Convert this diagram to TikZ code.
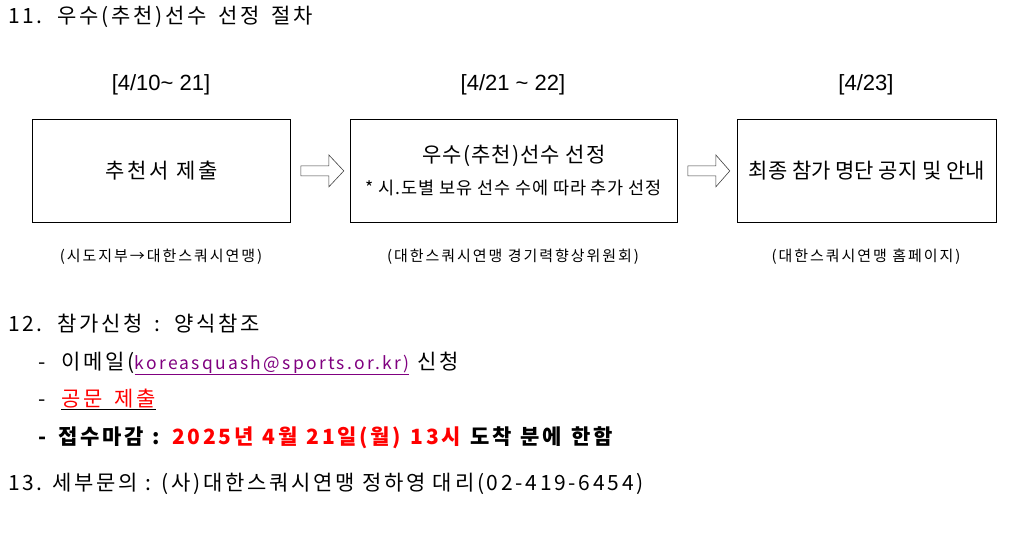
\documentclass[tikz,border=0pt]{standalone}
\usepackage{fontspec}
\setmainfont{Noto Sans CJK KR}
\newfontfamily\gw[LetterSpace=13]{Noto Sans CJK KR}
\newfontfamily\gww[LetterSpace=13.01,WordSpace=1.6]{Noto Sans CJK KR}
\newfontfamily\gwb[LetterSpace=13.02,WordSpace=1.22]{Noto Sans CJK KR}
\newfontfamily\gm[LetterSpace=5]{Noto Sans CJK KR}
\newfontfamily\arialf{Liberation Sans}
\usetikzlibrary{calc}
\definecolor{mailpurple}{RGB}{128,0,128}
\definecolor{red0}{RGB}{255,0,0}
\tikzset{
  stepbox/.style={draw=black, line width=0.8pt, minimum width=258pt, minimum height=103pt, anchor=north west, inner sep=0pt},
  datelbl/.style={font=\arialf\fontsize{22}{24}\selectfont, anchor=center, inner sep=0pt},
  sublbl/.style={font=\gw\fontsize{15}{17}\selectfont, anchor=center, inner sep=0pt},
  boxtxt/.style={font=\gm\fontsize{21}{24}\selectfont, anchor=center, inner sep=0pt},
  arrowline/.style={draw=black!75, line width=0.6pt, line join=miter},
  line/.style={font=\gw\fontsize{21}{24}\selectfont, anchor=base west, inner sep=0pt},
}
\begin{document}
\begin{tikzpicture}[x=1pt,y=-1pt]
\useasboundingbox[fill=white] (0,0) rectangle (1028,533);
\node[line, font=\gww\fontsize{21}{24}\selectfont] (t11) at (8,23) {11. 우수(추천)선수 선정 절차};

\node[datelbl] (d1) at (161,85) {[4/10\~{} 21]};
\node[datelbl] (d2) at (513,85) {[4/21 \~{} 22]};
\node[datelbl] (d3) at (866,85) {[4/23]};

\node[stepbox] (b1) at (32,119) {};
\node[stepbox, minimum width=327pt] (b2) at (350,119) {};
\node[stepbox, minimum width=259pt] (b3) at (737,119) {};
\node[boxtxt, font=\gw\fontsize{21}{24}\selectfont] (b1t) at (b1.center) {추천서 제출};
\node[boxtxt] (b2t) at ($(b2.center)+(0,-15.5)$) {우수(추천)선수 선정};
\node[boxtxt, font=\gm\fontsize{17.5}{20}\selectfont] (b2s) at ($(b2.center)+(0,17)$) {* 시.도별 보유 선수 수에 따라 추가 선정};
\node[boxtxt, font=\fontsize{21}{24}\selectfont] (b3t) at (b3.center) {최종 참가 명단 공지 및 안내};

\draw[arrowline] ($(b1.east)+(10,-5)$) -- ++(28,0) -- ++(0,-11) -- ++(15,16) -- ++(-15,16) -- ++(0,-11) -- ++(-28,0) -- cycle;
\draw[arrowline] ($(b2.east)+(10,-5)$) -- ++(28,0) -- ++(0,-11) -- ++(14,16) -- ++(-14,16) -- ++(0,-11) -- ++(-28,0) -- cycle;

\node[sublbl] (s1) at (161,257) {(시도지부→대한스쿼시연맹)};
\node[sublbl] (s2) at (513,257) {(대한스쿼시연맹 경기력향상위원회)};
\node[sublbl] (s3) at (866,257) {(대한스쿼시연맹 홈페이지)};

\node[line, font=\gww\fontsize{21}{24}\selectfont] (t12) at (8,331) {12. 참가신청 : 양식참조};
\node[line] (l1) at (38,369) {-\hspace{16pt}이메일(\textcolor{mailpurple}{\underline{\fontsize{17.5}{22}\selectfont koreasquash@sports.or.kr)}}\hspace{8pt}신청};
\node[line, font=\gww\fontsize{21}{24}\selectfont] (l2) at (38,406) {-\hspace{16pt}\underline{\textcolor{red0}{공문 제출}}};
\node[line, font=\gwb\fontsize{21}{24}\selectfont\bfseries] (l3) at (38,444) {-\hspace{12pt}접수마감 : \textcolor{red0}{2025년 4월 21일(월) 13시} 도착 분에 한함};
\node[line] (t13) at (8,490) {13. 세부문의 : (사)대한스쿼시연맹 정하영 대리(02-419-6454)};
\end{tikzpicture}
\end{document}
